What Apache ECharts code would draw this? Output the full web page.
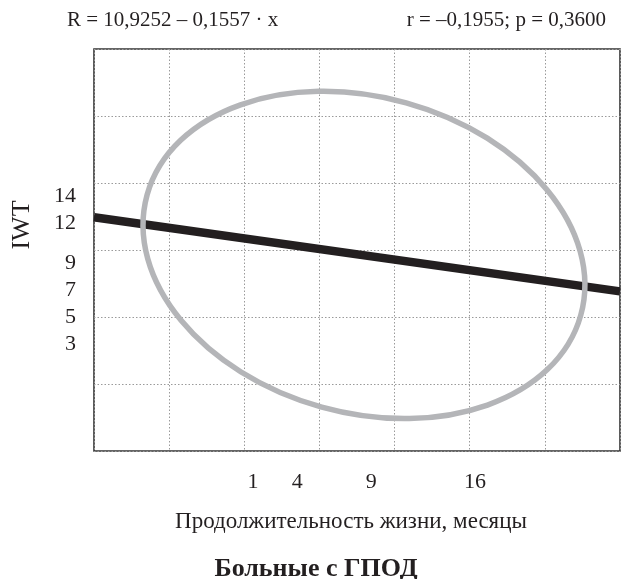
<!DOCTYPE html>
<html><head><meta charset="utf-8">
<script src="https://cdn.jsdelivr.net/npm/echarts@6/dist/echarts.min.js"></script>
<style>html,body{margin:0;padding:0;background:#fff}#c{width:632px;height:579px}</style>
</head><body><div id="c"></div>
<script>
// ---- data ----
const xTickValues = [1, 4, 9, 16];
const yTickValues = [3, 5, 7, 9, 12, 14];
const xRange = [-9.74, 25.8];
const yRange = [-5, 25];
const regressionX = [-9.74, 25.8];
const regressionY = [12.44, 6.91];
// confidence ellipse: centre, end of major semi-axis, end of minor semi-axis (data units)
const ellipseCenter = [8.5, 9.63];
const ellipseMajorEnd = [23.15, 5.14];
const ellipseMinorEnd = [11.33, 20.99];
const headerLeft = 'R = 10,9252 – 0,1557 · x';
const headerRight = 'r = –0,1955; p = 0,3600';
const xName = 'Продолжительность жизни, месяцы';
const yName = 'IWT';
const chartTitle = 'Больные с ГПОД';

const FONT = '"Liberation Serif", "DejaVu Serif", serif';
const INK = '#231f20';
const chart = echarts.init(document.getElementById('c'), null, {renderer: 'canvas'});

const gridLine = {show: true, lineStyle: {color: '#9a9a9a', width: 1, type: [1.5, 2]}};
const hidden = {axisLine: {show: false}, axisTick: {show: false}, axisLabel: {show: false}};

chart.setOption({
  animation: false,
  backgroundColor: '#fff',
  title: [
    {text: headerLeft, left: 62, top: 5, textStyle: {fontFamily: FONT, fontSize: 21, fontWeight: 'normal', color: INK}},
    {text: headerRight, right: 21, top: 5, textStyle: {fontFamily: FONT, fontSize: 21, fontWeight: 'normal', color: INK}},
    {text: chartTitle, left: 'center', top: 551, textStyle: {fontFamily: FONT, fontSize: 26, fontWeight: 'bold', color: INK}}
  ],
  graphic: [{
    type: 'text', x: 22, y: 225, rotation: Math.PI / 2,
    style: {text: yName, font: '26px ' + FONT, fill: INK, align: 'center', verticalAlign: 'middle'}
  }],
  grid: {left: 94, top: 49, right: 12, bottom: 128, show: true, borderColor: '#333', borderWidth: 1.6, backgroundColor: 'transparent'},
  xAxis: [
    {type: 'value', min: xRange[0], max: xRange[1], splitLine: {show: false}, axisLine: {show: false}, axisTick: {show: false},
     axisLabel: {customValues: xTickValues, fontFamily: FONT, fontSize: 22, color: INK, margin: 20},
     name: xName, nameLocation: 'middle', nameGap: 59, nameTextStyle: {fontFamily: FONT, fontSize: 23, color: INK, padding: [0, 12, 0, 0]}},
    Object.assign({type: 'value', min: 0, max: 7, interval: 1, splitLine: gridLine, position: 'bottom'}, hidden)
  ],
  yAxis: [
    {type: 'value', min: yRange[0], max: yRange[1], splitLine: {show: false}, axisLine: {show: false}, axisTick: {show: false},
     axisLabel: {customValues: yTickValues, fontFamily: FONT, fontSize: 22, color: INK, margin: 18}},
    Object.assign({type: 'value', min: 0, max: 6, interval: 1, splitLine: gridLine, position: 'left'}, hidden)
  ],
  series: [
    {type: 'line', xAxisIndex: 0, yAxisIndex: 0, symbol: 'none', z: 3,
     data: regressionX.map((x, i) => [x, regressionY[i]]),
     lineStyle: {color: INK, width: 8.5}},
    {type: 'custom', xAxisIndex: 0, yAxisIndex: 0, z: 4,
     data: [[...ellipseCenter, ...ellipseMajorEnd, ...ellipseMinorEnd]],
     renderItem: function (params, api) {
       const c = api.coord([api.value(0), api.value(1)]);
       const p1 = api.coord([api.value(2), api.value(3)]);
       const p2 = api.coord([api.value(4), api.value(5)]);
       const rx = Math.hypot(p1[0] - c[0], p1[1] - c[1]);
       const ry = Math.hypot(p2[0] - c[0], p2[1] - c[1]);
       const ang = Math.atan2(p1[1] - c[1], p1[0] - c[0]);
       return {type: 'ellipse', x: c[0], y: c[1], rotation: -ang,
               shape: {cx: 0, cy: 0, rx: rx, ry: ry},
               style: {fill: null, stroke: '#b4b5b8', lineWidth: 5.5}};
     }}
  ]
});
</script></body></html>
